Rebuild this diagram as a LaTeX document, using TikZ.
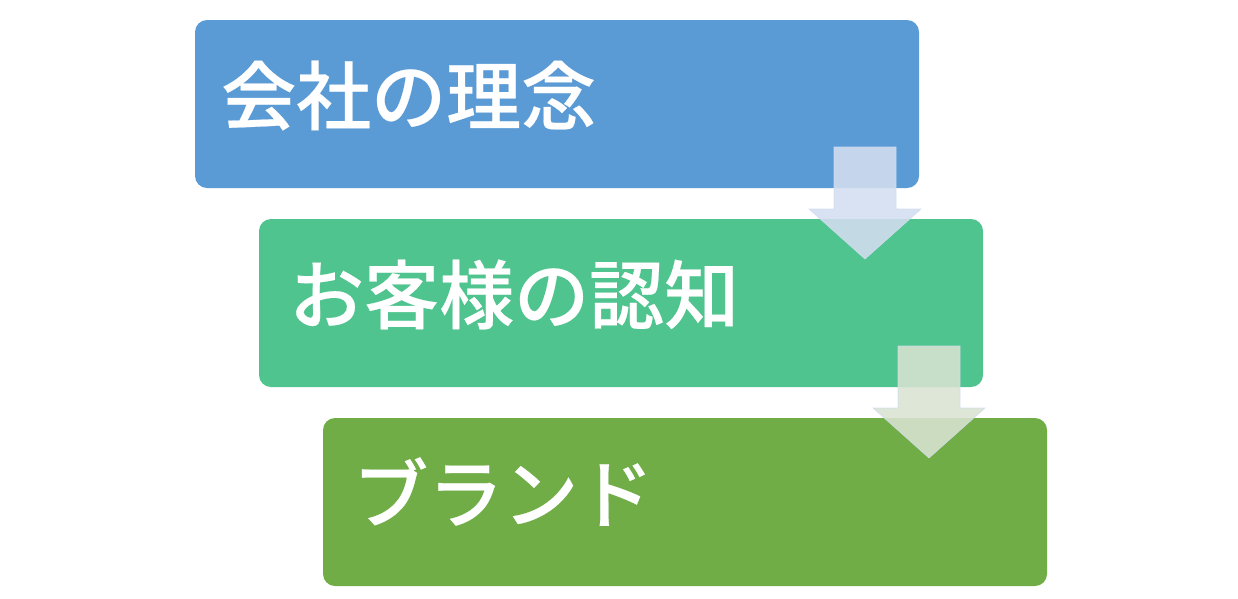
\documentclass[tikz,border=0pt]{standalone}
\usepackage{fontspec}
\newfontfamily\cjk{Noto Sans CJK JP Medium}[FakeBold=0.3]
\usetikzlibrary{positioning}
\definecolor{rinenblue}{HTML}{5B9BD5}
\definecolor{ninchigreen}{HTML}{50C48E}
\definecolor{brandgreen}{HTML}{70AD47}
\definecolor{arrowblue}{RGB}{211,222,240}
\definecolor{arrowgreen}{RGB}{216,227,209}
\definecolor{arrowline}{RGB}{210,220,240}
\tikzset{
	stage/.style={rounded corners=12pt, minimum width=724pt, minimum height=168pt, inner sep=0pt},
	stagetext/.style={text=white, font=\cjk\fontsize{75}{80}\selectfont, inner sep=0pt, anchor=base west},
	flowarrow/.style={fill=#1, fill opacity=0.88, draw=arrowline, line width=0.6pt, draw opacity=0.9},
}
% block arrow: colour, top centre of the shaft
\newcommand\downblock[2]{%
	\draw[flowarrow=#1] (#2) ++(-31,0) -- ++(62,0) -- ++(0,62) -- ++(25,0)
		-- ++(-56,50) -- ++(-56,-50) -- ++(25,0) -- cycle;}
\begin{document}
\begin{tikzpicture}[x=1pt, y=-1pt]
	\useasboundingbox (0,0) rectangle (1238,598);
	% the three stages
	\node[stage, fill=rinenblue] (rinen) at (557, 104) {};
	\node[stage, fill=ninchigreen] (ninchi) at (621, 303) {};
	\node[stage, fill=brandgreen] (brand) at (685, 502) {};

	\node[stagetext] (rinentext) at (221, 124) {会社の理念};
	\node[stagetext] (ninchitext) at (289, 323) {お客様の認知};
	\node[stagetext] (brandtext) at (353, 522) {ブランド};

	% arrows between the stages
	\coordinate (a1) at (865, 147);
	\coordinate (a2) at (929, 346);
	\downblock{arrowblue}{a1}
	\downblock{arrowgreen}{a2}
\end{tikzpicture}
\end{document}
